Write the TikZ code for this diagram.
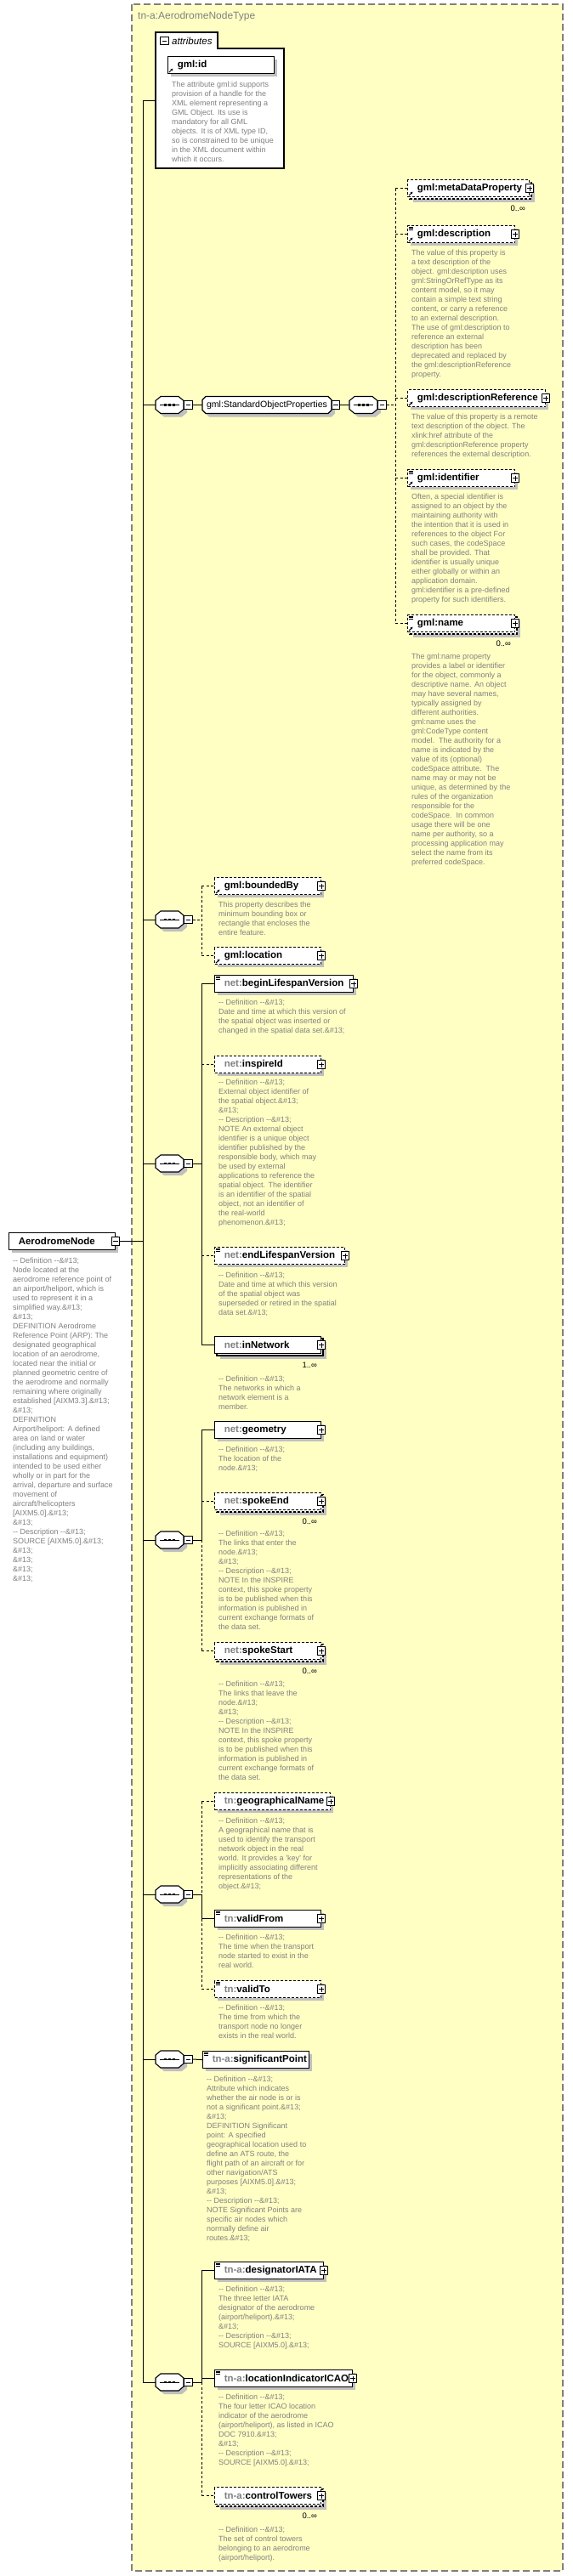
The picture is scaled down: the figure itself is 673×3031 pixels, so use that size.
\documentclass[tikz,border=0pt]{standalone}
\usepackage{fontspec}
\setmainfont{Liberation Sans}
\usetikzlibrary{arrows.meta}
\definecolor{yel}{HTML}{FFFFC4}
\definecolor{shc}{HTML}{C0C0C0}
\definecolor{tgray}{HTML}{808080}
\newcommand\myCR{\&\#13;}
\newcommand\myDef{-{}- Definition -{}-\&\#13;}
\newcommand\myDesc{-{}- Description -{}-\&\#13;}
\newcommand\myPfx[1]{\textcolor{tgray}{#1}}
\tikzset{
 boxline/.style={line width=1.1pt,draw=black},
 elbox/.style={boxline,fill=white,anchor=north west,inner xsep=4.5pt,inner ysep=0pt,minimum height=20pt,align=left,font=\fontsize{11.5}{13}\selectfont\bfseries},
 dsh/.style={dash pattern=on 3pt off 2pt},
 conn/.style={line width=1pt},
 dconn/.style={line width=1pt,dash pattern=on 3pt off 2.5pt},
 pbox/.style={draw,line width=0.8pt,fill=white,minimum size=9.5pt,inner sep=0pt,
   path picture={\draw[line width=0.8pt] ([xshift=1.8pt]path picture bounding box.west) -- ([xshift=-1.8pt]path picture bounding box.east) ([yshift=-1.8pt]path picture bounding box.north) -- ([yshift=1.8pt]path picture bounding box.south);}},
 mbox/.style={draw,line width=0.8pt,fill=white,minimum size=9.5pt,inner sep=0pt,
   path picture={\draw[line width=0.8pt] ([xshift=1.8pt]path picture bounding box.west) -- ([xshift=-1.8pt]path picture bounding box.east);}},
 desc/.style={inner sep=0pt,text=tgray,font=\fontsize{9}{11}\selectfont,anchor=base west},
 card/.style={inner sep=0pt,font=\fontsize{9.5}{11}\selectfont},
}
\newcommand\myEl[6]{%
  \pgfmathsetmacro\myTW{#4-13.5}%
  \fill[shc] ({#2+4},{#3+4}) rectangle ({#2+#4+4},{#3+24});%
  \node[elbox,#5,minimum width=#4pt,text width=\myTW pt] (#1) at (#2,#3) {\hspace*{4.5pt}\mbox{#6}};%
}
\newcommand\myElM[6]{%
  \pgfmathsetmacro\myTW{#4-13.5}%
  \fill[shc] ({#2+7},{#3+7}) rectangle ({#2+#4+7},{#3+27});%
  \draw[boxline,#5,fill=white] ({#2+3},{#3+3}) rectangle ({#2+#4+3},{#3+23});%
  \node[elbox,#5,minimum width=#4pt,text width=\myTW pt] (#1) at (#2,#3) {\hspace*{4.5pt}\mbox{#6}};%
}
\newcommand\myPlus[1]{\node[pbox] (#1p) at (#1.east) {};}
\newcommand\myRefIc[1]{\draw[-{Stealth[length=3pt,width=3pt]},line width=0.9pt] ([xshift=2pt,yshift=2pt]#1.south west) -- ([xshift=6.5pt,yshift=6.5pt]#1.south west);}
\newcommand\mySimp[1]{%
  \draw[line width=0.6pt] ([xshift=1.5pt,yshift=-1.8pt]#1.north west) -- ++(5.5pt,0pt);%
  \draw[line width=0.6pt] ([xshift=1.5pt,yshift=-3.4pt]#1.north west) -- ++(5.5pt,0pt);%
  \draw[line width=0.6pt] ([xshift=1.5pt,yshift=-5.0pt]#1.north west) -- ++(5.5pt,0pt);}
\newcommand\myCard[2]{\node[card,anchor=east] (#1c) at ([xshift=-5pt,yshift=-13.5pt]#1.south east) {#2};}
\newcommand\myDescT[4]{\node[desc] (#1) at (#2,#3) {\parbox[t]{260pt}{\fontsize{9}{11}\selectfont\raggedright #4}};}
\newcommand\myOct[7]{\path[#7] ({#1+#5},{#2}) -- ({#3-#5},{#2}) -- ({#3},{#2+#6}) -- ({#3},{#4-#6}) -- ({#3-#5},{#4}) -- ({#1+#5},{#4}) -- ({#1},{#4-#6}) -- ({#1},{#2+#6}) -- cycle;}
\newcommand\myComp[3]{%
 \myOct{#2+4}{#3-6}{#2+37}{#3+14}{6}{5}{fill=shc}%
 \myOct{#2}{#3-10}{#2+33}{#3+10}{6}{5}{boxline,fill=white}%
 \node[inner sep=0pt,minimum width=33pt,minimum height=20pt] (#1) at ({#2+16.5},{#3}) {};%
 \draw[line width=0.9pt] ({#2+5},{#3}) -- ({#2+28},{#3});%
 \fill ({#2+10.2},{#3-1.3}) rectangle ({#2+12.8},{#3+1.3});%
 \fill ({#2+15.2},{#3-1.3}) rectangle ({#2+17.8},{#3+1.3});%
 \fill ({#2+20.2},{#3-1.3}) rectangle ({#2+22.8},{#3+1.3});%
 \node[mbox] (#1m) at ({#2+38.5},{#3}) {};%
}
\begin{document}
\begin{tikzpicture}[x=1pt,y=-1pt]
\useasboundingbox (0,0) rectangle (673,3031);
\fill[white] (0,0) rectangle (673,3031);
\draw[fill=yel,draw=tgray,line width=1.1pt,dash pattern=on 8pt off 4pt] (155,5) rectangle (662,3025);
\node[anchor=west,inner sep=0pt,text=tgray,font=\fontsize{12}{14}\selectfont] (title) at (162,19) {tn-a:AerodromeNodeType};

% attributes
\draw[boxline,fill=white] (183,38) -- (256,38) -- (256,57) -- (334,57) -- (334,198) -- (183,198) -- cycle;
\node[inner sep=0pt,minimum width=151pt,minimum height=141pt,anchor=north west] (attr) at (183,57) {};
\node[mbox] (attrm) at (193.5,48) {};
\node[anchor=west,inner sep=0pt,font=\fontsize{11.5}{13}\selectfont\itshape] (attrt) at (202,48) {attributes};
\myEl{gmlid}{197}{66}{125}{solid}{gml:id}
\myRefIc{gmlid}
\myDescT{gmlidd}{202}{102}{The attribute gml:id supports\\provision of a handle for the\\XML element representing a\\GML Object. Its use is\\mandatory for all GML\\objects. It is of XML type ID,\\so is constrained to be unique\\in the XML document within\\which it occurs.}

% root element
\myEl{AN}{10}{1450}{125}{solid}{AerodromeNode}
\node[mbox] (ANm) at (AN.east) {};
\myDescT{ANd}{15}{1486}{\myDef\\Node located at the\\aerodrome reference point of\\an airport/heliport, which is\\used to represent it in a\\simplified way.\myCR\\\myCR\\DEFINITION Aerodrome\\Reference Point (ARP): The\\designated geographical\\location of an aerodrome,\\located near the initial or\\planned geometric centre of\\the aerodrome and normally\\remaining where originally\\established {[}AIXM3.3{]}.\myCR\\\myCR\\DEFINITION\\Airport/heliport: A defined\\area on land or water\\(including any buildings,\\installations and equipment)\\intended to be used either\\wholly or in part for the\\arrival, departure and surface\\movement of\\aircraft/helicopters\\{}{[}AIXM5.0{]}.\myCR\\\myCR\\\myDesc\\SOURCE {[}AIXM5.0{]}.\myCR\\\myCR\\\myCR\\\myCR\\\myCR}

% compositors
\myComp{s1}{183}{476.5}
\myComp{s2}{411}{476.5}
\myComp{s3}{183}{1082}
\myComp{s4}{183}{1369}
\myComp{s5}{183}{1812}
\myComp{s6}{183}{2229}
\myComp{s7}{183}{2423}
\myComp{s8}{183}{2803}

% group
\myOct{242}{470.5}{394}{490.5}{4}{4}{fill=shc}
\myOct{238}{466.5}{390}{486.5}{4}{4}{boxline,fill=white}
\node[inner sep=0pt,minimum width=152pt,minimum height=20pt,font=\fontsize{10.6}{12}\selectfont] (grp) at (314,476.5) {gml:StandardObjectProperties};
\node[mbox] (grpm) at (395,476.5) {};

% right column (gml standard object properties)
\myElM{md}{479}{211}{143}{dsh}{gml:metaDataProperty}
\myPlus{md}\myRefIc{md}\myCard{md}{0..∞}
\myEl{de}{479}{265}{126}{dsh}{gml:description}
\myPlus{de}\myRefIc{de}\mySimp{de}
\myDescT{ded}{484}{300}{The value of this property is\\a text description of the\\object. gml:description uses\\gml:StringOrRefType as its\\content model, so it may\\contain a simple text string\\content, or carry a reference\\to an external description.\\The use of gml:description to\\reference an external\\description has been\\deprecated and replaced by\\the gml:descriptionReference\\property.}
\myEl{dr}{479}{458}{162}{dsh}{gml:descriptionReference}
\myPlus{dr}\myRefIc{dr}
\myDescT{drd}{484}{493}{The value of this property is a remote\\text description of the object. The\\xlink:href attribute of the\\gml:descriptionReference property\\references the external description.}
\myEl{idf}{479}{552}{126}{dsh}{gml:identifier}
\myPlus{idf}\myRefIc{idf}\mySimp{idf}
\myDescT{idfd}{484}{587}{Often, a special identifier is\\assigned to an object by the\\maintaining authority with\\the intention that it is used in\\references to the object For\\such cases, the codeSpace\\shall be provided. That\\identifier is usually unique\\either globally or within an\\application domain.\\gml:identifier is a pre-defined\\property for such identifiers.}
\myElM{nm}{479}{723}{126}{dsh}{gml:name}
\myPlus{nm}\myRefIc{nm}\mySimp{nm}\myCard{nm}{0..∞}
\myDescT{nmd}{484}{775}{The gml:name property\\provides a label or identifier\\for the object, commonly a\\descriptive name. An object\\may have several names,\\typically assigned by\\different authorities.\\gml:name uses the\\gml:CodeType content\\model.\ \ The authority for a\\name is indicated by the\\value of its (optional)\\codeSpace attribute.\ \ The\\name may or may not be\\unique, as determined by the\\rules of the organization\\responsible for the\\codeSpace.\ \ In common\\usage there will be one\\name per authority, so a\\processing application may\\select the name from its\\preferred codeSpace.}

% middle column
\myEl{bb}{252}{1032}{125}{dsh}{gml:boundedBy}
\myPlus{bb}\myRefIc{bb}
\myDescT{bbd}{257}{1067}{This property describes the\\minimum bounding box or\\rectangle that encloses the\\entire feature.}
\myEl{lo}{252}{1114}{125}{dsh}{gml:location}
\myPlus{lo}\myRefIc{lo}
\myEl{bl}{252}{1147}{163}{solid}{\myPfx{net:}beginLifespanVersion}
\myPlus{bl}\mySimp{bl}
\myDescT{bld}{257}{1182}{\myDef\\Date and time at which this version of\\the spatial object was inserted or\\changed in the spatial data set.\myCR}
\myEl{ii}{252}{1242}{125}{dsh}{\myPfx{net:}inspireId}
\myPlus{ii}
\myDescT{iid}{257}{1276}{\myDef\\External object identifier of\\the spatial object.\myCR\\\myCR\\\myDesc\\NOTE An external object\\identifier is a unique object\\identifier published by the\\responsible body, which may\\be used by external\\applications to reference the\\spatial object. The identifier\\is an identifier of the spatial\\object, not an identifier of\\the real-world\\phenomenon.\myCR}
\myEl{el}{252}{1467}{153}{dsh}{\myPfx{net:}endLifespanVersion}
\myPlus{el}\mySimp{el}
\myDescT{eld}{257}{1503}{\myDef\\Date and time at which this version\\of the spatial object was\\superseded or retired in the spatial\\data set.\myCR}
\myElM{inw}{252}{1572}{125}{solid}{\myPfx{net:}inNetwork}
\myPlus{inw}\myCard{inw}{1..∞}
\myDescT{inwd}{257}{1625}{\myDef\\The networks in which a\\network element is a\\member.}
\myEl{ge}{252}{1672}{125}{solid}{\myPfx{net:}geometry}
\myPlus{ge}
\myDescT{ged}{257}{1708}{\myDef\\The location of the\\node.\myCR}
\myElM{se}{252}{1756}{125}{dsh}{\myPfx{net:}spokeEnd}
\myPlus{se}\myCard{se}{0..∞}
\myDescT{sed}{257}{1807}{\myDef\\The links that enter the\\node.\myCR\\\myCR\\\myDesc\\NOTE In the INSPIRE\\context, this spoke property\\is to be published when this\\information is published in\\current exchange formats of\\the data set.}
\myElM{ss}{252}{1932}{125}{dsh}{\myPfx{net:}spokeStart}
\myPlus{ss}\myCard{ss}{0..∞}
\myDescT{ssd}{257}{1984}{\myDef\\The links that leave the\\node.\myCR\\\myCR\\\myDesc\\NOTE In the INSPIRE\\context, this spoke property\\is to be published when this\\information is published in\\current exchange formats of\\the data set.}
\myEl{gn}{252}{2109}{136}{dsh}{\myPfx{tn:}geographicalName}
\myPlus{gn}
\myDescT{gnd}{257}{2145}{\myDef\\A geographical name that is\\used to identify the transport\\network object in the real\\world. It provides a 'key' for\\implicitly associating different\\representations of the\\object.\myCR}
\myEl{vf}{252}{2247}{125}{solid}{\myPfx{tn:}validFrom}
\myPlus{vf}\mySimp{vf}
\myDescT{vfd}{257}{2282}{\myDef\\The time when the transport\\node started to exist in the\\real world.}
\myEl{vt}{252}{2330}{125}{dsh}{\myPfx{tn:}validTo}
\myPlus{vt}\mySimp{vt}
\myDescT{vtd}{257}{2365}{\myDef\\The time from which the\\transport node no longer\\exists in the real world.}
\myEl{sp}{238}{2413}{125}{solid}{\myPfx{tn-a:}significantPoint}
\mySimp{sp}
\myDescT{spd}{243}{2449}{\myDef\\Attribute which indicates\\whether the air node is or is\\not a significant point.\myCR\\\myCR\\DEFINITION Significant\\point: A specified\\geographical location used to\\define an ATS route, the\\flight path of an aircraft or for\\other navigation/ATS\\purposes {[}AIXM5.0{]}.\myCR\\\myCR\\\myDesc\\NOTE Significant Points are\\specific air nodes which\\normally define air\\routes.\myCR}
\myEl{ia}{252}{2661}{128}{solid}{\myPfx{tn-a:}designatorIATA}
\myPlus{ia}\mySimp{ia}
\myDescT{iad}{257}{2696}{\myDef\\The three letter IATA\\designator of the aerodrome\\(airport/heliport).\myCR\\\myCR\\\myDesc\\SOURCE {[}AIXM5.0{]}.\myCR}
\myEl{ic}{252}{2788}{162}{solid}{\myPfx{tn-a:}locationIndicatorICAO}
\myPlus{ic}\mySimp{ic}
\myDescT{icd}{257}{2823}{\myDef\\The four letter ICAO location\\indicator of the aerodrome\\(airport/heliport), as listed in ICAO\\DOC 7910.\myCR\\\myCR\\\myDesc\\SOURCE {[}AIXM5.0{]}.\myCR}
\myElM{ct}{252}{2926}{125}{dsh}{\myPfx{tn-a:}controlTowers}
\myPlus{ct}\myCard{ct}{0..∞}
\myDescT{ctd}{257}{2979}{\myDef\\The set of control towers\\belonging to an aerodrome\\(airport/heliport).}

% connectors
\coordinate (mtop) at (168,118);
\coordinate (busA) at (465,0);
\coordinate (busB) at (237,0);
\draw[conn] (mtop) -- (mtop -| attr.west);
\draw[conn] (mtop) -- (mtop |- s8.west) -- (s8.west);
\draw[conn] (ANm.east) -- (ANm.east -| mtop);
\foreach \s in {s1,s3,s4,s5,s6,s7} \draw[conn] (\s.west -| mtop) -- (\s.west);
\draw[conn] (s1m.east) -- (grp.west);
\draw[conn] (grpm.east) -- (s2.west);
\draw[dconn] (s2m.east) -- (s2m.east -| busA);
\draw[dconn] (busA |- md.west) -- (busA |- nm.west);
\foreach \e in {md,de,dr,idf,nm} \draw[dconn] (busA |- \e.west) -- (\e.west);
% s3
\draw[dconn] (s3m.east) -- (s3m.east -| busB);
\draw[dconn] (busB |- bb.west) -- (busB |- lo.west);
\foreach \e in {bb,lo} \draw[dconn] (busB |- \e.west) -- (\e.west);
% s4
\draw[conn] (s4m.east) -- (s4m.east -| busB);
\draw[conn] (busB |- bl.west) -- (busB |- inw.west);
\foreach \e in {bl,inw} \draw[conn] (busB |- \e.west) -- (\e.west);
\foreach \e in {ii,el} \draw[dconn] (busB |- \e.west) -- (\e.west);
% s5
\draw[conn] (s5m.east) -- (s5m.east -| busB);
\draw[conn] (busB |- ge.west) -- (busB |- s5.east);
\draw[dconn] (busB |- s5.east) -- (busB |- ss.west);
\draw[conn] (busB |- ge.west) -- (ge.west);
\foreach \e in {se,ss} \draw[dconn] (busB |- \e.west) -- (\e.west);
% s6
\draw[conn] (s6m.east) -- (s6m.east -| busB);
\draw[dconn] (busB |- gn.west) -- (busB |- s6.east);
\draw[conn] (busB |- s6.east) -- (busB |- vf.west);
\draw[dconn] (busB |- vf.west) -- (busB |- vt.west);
\draw[conn] (busB |- vf.west) -- (vf.west);
\foreach \e in {gn,vt} \draw[dconn] (busB |- \e.west) -- (\e.west);
% s7
\draw[conn] (s7m.east) -- (sp.west);
% s8
\draw[conn] (s8m.east) -- (s8m.east -| busB);
\draw[conn] (busB |- ia.west) -- (busB |- s8.east);
\draw[dconn] (busB |- s8.east) -- (busB |- ct.west);
\foreach \e in {ia,ic} \draw[conn] (busB |- \e.west) -- (\e.west);
\draw[dconn] (busB |- ct.west) -- (ct.west);
\end{tikzpicture}
\end{document}
